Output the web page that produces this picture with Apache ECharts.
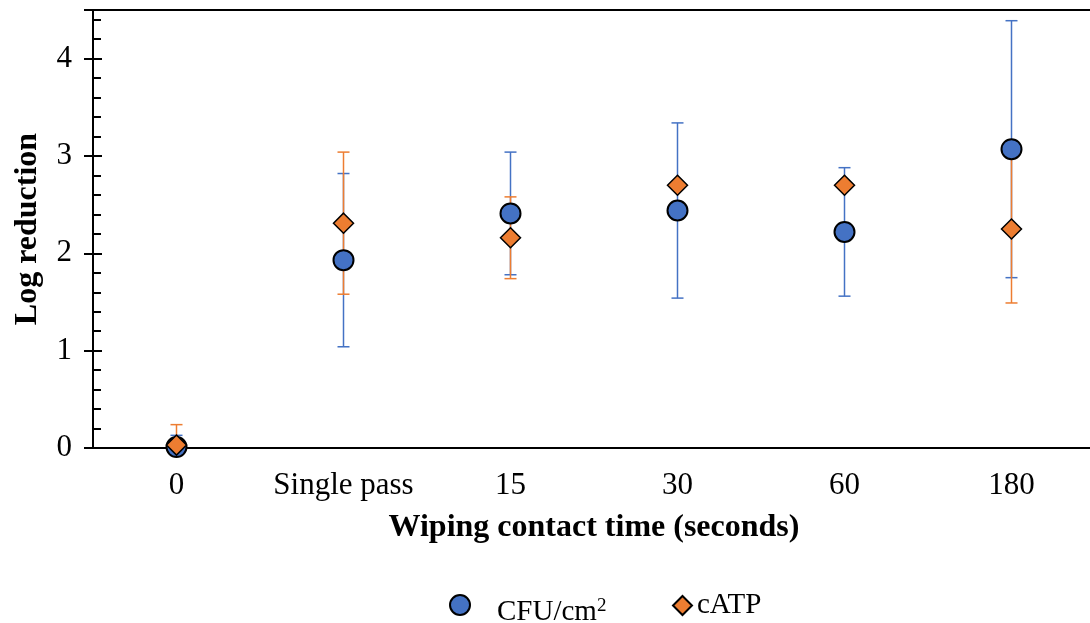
<!DOCTYPE html>
<html>
<head>
<meta charset="utf-8">
<script src="https://cdn.jsdelivr.net/npm/echarts@6/dist/echarts.min.js"></script>
<style>
  html, body { margin: 0; padding: 0; background: #fff; }
  #chart { width: 1090px; height: 623px; }
</style>
</head>
<body>
<div id="chart"></div>
<script>
// 数据
var categories = ['0', 'Single pass', '15', '30', '60', '180'];
var cfuMean = [0.01, 1.93, 2.41, 2.44, 2.22, 3.07];
var cfuErr = [0.12, 0.89, 0.63, 0.90, 0.66, 1.32];
var atpMean = [0.03, 2.31, 2.16, 2.70, 2.70, 2.25];
var atpErr = [0.21, 0.73, 0.42, 0.0, 0.0, 0.76];
var yTicks = [0, 1, 2, 3, 4];

var blue = '#4472C4';
var orange = '#ED7D31';
var font = 'Liberation Serif';

function errRows(mean, err) {
    return mean.map(function (m, i) { return [i, m, err[i]]; });
}

// 误差线
function errorBar(color) {
    return function (params, api) {
        var x = api.value(0), y = api.value(1), e = api.value(2);
        if (!e) return null;
        var top = api.coord([x, y + e]);
        var bot = api.coord([x, y - e]);
        var cap = 6;
        var style = { stroke: color, lineWidth: 1.5 };
        return {
            type: 'group',
            children: [
                { type: 'line', shape: { x1: top[0], y1: top[1], x2: bot[0], y2: bot[1] }, style: style },
                { type: 'line', shape: { x1: top[0] - cap, y1: top[1], x2: top[0] + cap, y2: top[1] }, style: style },
                { type: 'line', shape: { x1: bot[0] - cap, y1: bot[1], x2: bot[0] + cap, y2: bot[1] }, style: style }
            ]
        };
    };
}

var myChart = echarts.init(document.getElementById('chart'));
var option = {
    animation: false,
    grid: {
        left: 93, top: 10, right: -5, bottom: 175,
        outerBoundsMode: 'none',
        containLabel: false,
        show: true, borderColor: '#000', borderWidth: 2
    },
    legend: [
        {
            left: 444, top: 589,
            itemWidth: 20, itemHeight: 20,
            data: [{ name: 'CFU/cm2', icon: 'circle' }],
            formatter: function () { return 'CFU/cm{sup|2}'; },
            textStyle: {
                fontFamily: font, fontSize: 29, color: '#000',
                padding: [14, 0, 0, 22],
                rich: { sup: { fontFamily: font, fontSize: 19, color: '#000', verticalAlign: 'top', padding: [0, 0, 12, 0] } }
            }
        },
        {
            left: 667, top: 586,
            itemWidth: 19, itemHeight: 19,
            data: [{ name: 'cATP', icon: 'diamond' }],
            textStyle: { fontFamily: font, fontSize: 29, color: '#000', padding: [10, 0, 0, 0] }
        }
    ],
    xAxis: {
        type: 'category',
        data: categories,
        boundaryGap: true,
        name: 'Wiping contact time (seconds)',
        nameLocation: 'middle',
        nameGap: 64,
        nameTextStyle: { fontFamily: font, fontSize: 32, fontWeight: 'bold', color: '#000' },
        axisLine: { lineStyle: { color: '#000', width: 2 } },
        axisTick: { show: false },
        axisLabel: { fontFamily: font, fontSize: 31, color: '#000', margin: 22, interval: 0 },
        splitLine: { show: false }
    },
    yAxis: [
        {
            type: 'value',
            min: 0, max: 4.5, interval: 1,
            name: 'Log reduction',
            nameLocation: 'middle',
            nameGap: 49,
            nameTextStyle: { fontFamily: font, fontSize: 32, fontWeight: 'bold', color: '#000' },
            axisLine: { show: true, lineStyle: { color: '#000', width: 2 } },
            axisTick: { show: true, inside: false, length: 9, lineStyle: { color: '#000', width: 2 } },
            axisLabel: {
                fontFamily: font, fontSize: 31, color: '#000', margin: 21,
                formatter: function (v) { return yTicks.indexOf(v) >= 0 ? String(v) : ''; }
            },
            splitLine: { show: false }
        },
        {
            type: 'value',
            min: 0, max: 4.5, interval: 1,
            position: 'left',
            axisLine: { show: false },
            axisTick: { show: true, inside: true, length: 9, lineStyle: { color: '#000', width: 2 } },
            minorTick: { show: true, splitNumber: 5, length: 8, lineStyle: { color: '#000', width: 2 } },
            axisLabel: { show: false },
            splitLine: { show: false }
        }
    ],
    series: [
        {
            name: 'CFU/cm2',
            type: 'scatter',
            data: cfuMean,
            symbol: 'circle',
            symbolSize: 20,
            itemStyle: { color: blue, borderColor: '#000', borderWidth: 2, opacity: 1 },
            z: 3
        },
        {
            name: 'cATP',
            type: 'scatter',
            data: atpMean,
            symbol: 'diamond',
            symbolSize: 20,
            itemStyle: { color: orange, borderColor: '#000', borderWidth: 1.5, opacity: 1 },
            z: 4
        },
        {
            name: 'CFU/cm2',
            type: 'custom',
            renderItem: errorBar(blue),
            data: errRows(cfuMean, cfuErr),
            encode: { x: 0, y: 1 },
            itemStyle: { color: blue },
            clip: true,
            z: 1,
            silent: true
        },
        {
            name: 'cATP',
            type: 'custom',
            renderItem: errorBar(orange),
            data: errRows(atpMean, atpErr),
            encode: { x: 0, y: 1 },
            itemStyle: { color: orange },
            clip: true,
            z: 2,
            silent: true
        }
    ]
};
myChart.setOption(option);
</script>
</body>
</html>
